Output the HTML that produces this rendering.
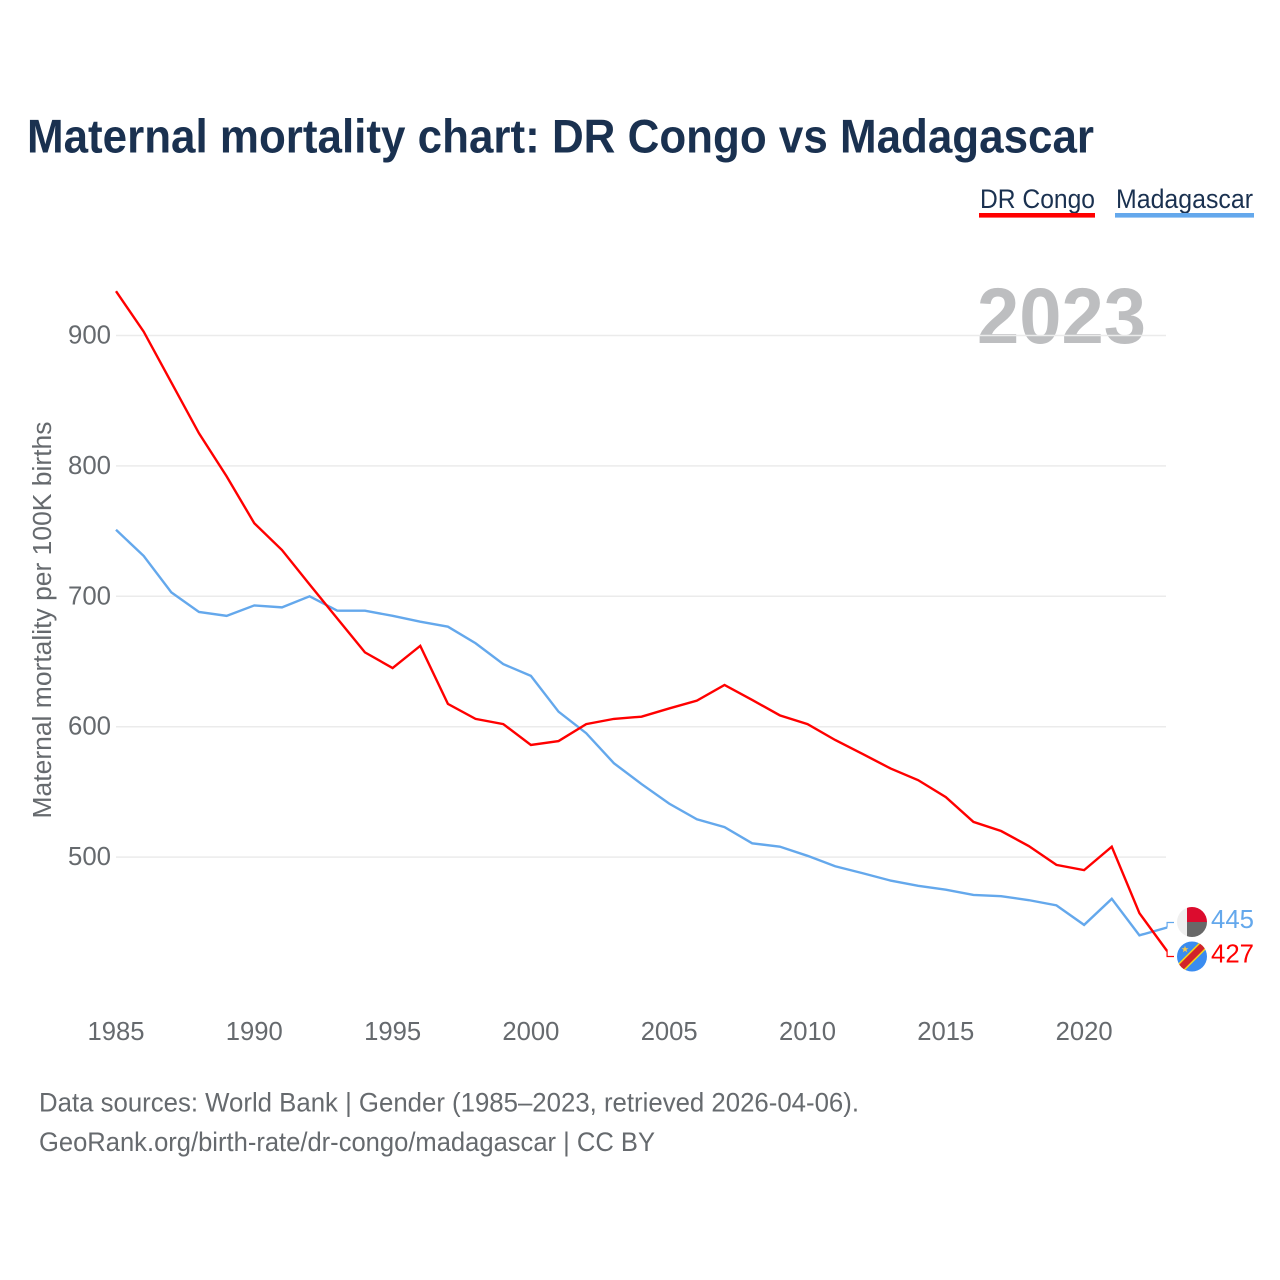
<!DOCTYPE html>
<html lang="en">
<head>
<meta charset="utf-8">
<title>Maternal mortality chart: DR Congo vs Madagascar</title>
<style>
html,body{margin:0;padding:0;background:#fff;}
svg{display:block;}
text{font-family:"Liberation Sans",sans-serif;}
</style>
</head>
<body>
<svg id="chart" xmlns="http://www.w3.org/2000/svg" width="1280" height="1280" viewBox="0 0 1280 1280">
  <rect width="1280" height="1280" fill="#ffffff"/>
  <text x="27" y="152.5" font-size="47" font-weight="700" fill="#1a3150" textLength="1067" lengthAdjust="spacingAndGlyphs">Maternal mortality chart: DR Congo vs Madagascar</text>

  <g>
    <g>
      <text x="980" y="208" font-size="27" fill="#1a3150" textLength="115" lengthAdjust="spacingAndGlyphs">DR Congo</text>
      <rect x="979" y="213" width="116" height="4.6" fill="#ff0000"/>
    </g>
    <g>
      <text x="1116" y="208" font-size="27" fill="#1a3150" textLength="137" lengthAdjust="spacingAndGlyphs">Madagascar</text>
      <rect x="1115" y="213" width="139" height="4.6" fill="#64a8ec"/>
    </g>
  </g>

  <text x="977" y="343" font-size="79" font-weight="700" fill="#bdbec0" textLength="169" lengthAdjust="spacingAndGlyphs">2023</text>

  <g id="grid"></g>
  <g id="yticks"></g>
  <g id="xticks"></g>

  <text transform="translate(51,620) rotate(-90)" text-anchor="middle" font-size="25.5" fill="#666a6e" textLength="397" lengthAdjust="spacingAndGlyphs">Maternal mortality per 100K births</text>

  <g id="series"></g>

  <defs>
    <clipPath id="clip-mg"><circle cx="1192" cy="922" r="15"/></clipPath>
    <clipPath id="clip-cd"><circle cx="1192" cy="956.5" r="15"/></clipPath>
  </defs>

  <g clip-path="url(#clip-mg)">
    <rect x="1177" y="907" width="10" height="30" fill="#efefef"/>
    <rect x="1187" y="907" width="20" height="15" fill="#dc0c2e"/>
    <rect x="1187" y="922" width="20" height="15" fill="#686868"/>
  </g>
  <g clip-path="url(#clip-cd)">
    <rect x="1177" y="941" width="30" height="31" fill="#3a8cf0"/>
    <line x1="1172" y1="976.5" x2="1212" y2="936.5" stroke="#f7d618" stroke-width="9.5"/>
    <line x1="1172" y1="976.5" x2="1212" y2="936.5" stroke="#d2232a" stroke-width="6.5"/>
    <polygon points="1185,945.7 1185.9,948.2 1188.5,948.2 1186.4,949.8 1187.2,952.3 1185,950.8 1182.8,952.3 1183.6,949.8 1181.5,948.2 1184.1,948.2" fill="#f7c948"/>
  </g>

  <text x="1211" y="928" font-size="26" fill="#64a8ec" textLength="43" lengthAdjust="spacingAndGlyphs">445</text>
  <text x="1211" y="962.5" font-size="26" fill="#ff0000" textLength="43" lengthAdjust="spacingAndGlyphs">427</text>

  <text x="39" y="1111.5" font-size="27" fill="#666a6e" textLength="820" lengthAdjust="spacingAndGlyphs">Data sources: World Bank | Gender (1985–2023, retrieved 2026-04-06).</text>
  <text x="39" y="1151" font-size="27" fill="#666a6e" textLength="616" lengthAdjust="spacingAndGlyphs">GeoRank.org/birth-rate/dr-congo/madagascar | CC BY</text>
</svg>
<script>
const years = [1985,1986,1987,1988,1989,1990,1991,1992,1993,1994,1995,1996,1997,1998,1999,2000,2001,2002,2003,2004,2005,2006,2007,2008,2009,2010,2011,2012,2013,2014,2015,2016,2017,2018,2019,2020,2021,2022,2023];
const drCongo = [934,903,864,825,792,756,735.5,709,683,657,645,662,617.5,606,602,586,589,602,606,607.7,614,620,632,620.5,608.7,602,589.8,579,568,559,546,527,520,508.5,494,490,508,457,428];
const madagascar = [751,731,703,688,685,693,691.5,700,689,689,685,680.5,676.7,664,648,639,611.5,595,572,556,541,529,523,510.6,508,501,493,487.6,482,478,475,471,470,467,463,448,468,440,446];
const yTicks = [900,800,700,600,500];
const xTicks = [1985,1990,1995,2000,2005,2010,2015,2020];

const NS = 'http://www.w3.org/2000/svg';
const xScale = function (year) { return 116 + (year - 1985) * 27.66; };
const yScale = function (value) { return 335.5 + (900 - value) * 1.304; };

const grid = document.getElementById('grid');
const yG = document.getElementById('yticks');
const xG = document.getElementById('xticks');
const seriesG = document.getElementById('series');

yTicks.forEach(function (tick) {
  const line = document.createElementNS(NS, 'line');
  
  
  line.setAttribute('x1', 116);
  line.setAttribute('x2', 1166);
  line.setAttribute('y1', yScale(tick));
  line.setAttribute('y2', yScale(tick));
  line.setAttribute('stroke', '#ebebeb');
  line.setAttribute('stroke-width', 1.5);
  grid.appendChild(line);

  const label = document.createElementNS(NS, 'text');
  
  
  label.setAttribute('x', 111);
  label.setAttribute('y', yScale(tick) + 8);
  label.setAttribute('text-anchor', 'end');
  label.setAttribute('font-size', 26);
  label.setAttribute('fill', '#666a6e');
  label.setAttribute('textLength', 43);
  label.setAttribute('lengthAdjust', 'spacingAndGlyphs');
  label.textContent = tick;
  yG.appendChild(label);
});

xTicks.forEach(function (tick) {
  const label = document.createElementNS(NS, 'text');
  
  
  label.setAttribute('x', xScale(tick));
  label.setAttribute('y', 1040);
  label.setAttribute('text-anchor', 'middle');
  label.setAttribute('font-size', 26);
  label.setAttribute('fill', '#666a6e');
  label.setAttribute('textLength', 57);
  label.setAttribute('lengthAdjust', 'spacingAndGlyphs');
  label.textContent = tick;
  xG.appendChild(label);
});

function pathFor(values) {
  return values.map(function (v, i) {
    return (i ? 'L' : 'M') + xScale(years[i]).toFixed(2) + ' ' + yScale(v).toFixed(2);
  }).join(' ');
}

const blueLine = document.createElementNS(NS, 'path');


blueLine.setAttribute('d', pathFor(madagascar));
blueLine.setAttribute('fill', 'none');
blueLine.setAttribute('stroke', '#64a8ec');
blueLine.setAttribute('stroke-width', 2.4);
seriesG.appendChild(blueLine);

const redLine = document.createElementNS(NS, 'path');


redLine.setAttribute('d', pathFor(drCongo));
redLine.setAttribute('fill', 'none');
redLine.setAttribute('stroke', '#ff0000');
redLine.setAttribute('stroke-width', 2.4);
seriesG.appendChild(redLine);

const endX = xScale(years[years.length - 1]);

const blueConn = document.createElementNS(NS, 'path');


blueConn.setAttribute('d', 'M' + endX + ' ' + yScale(madagascar[madagascar.length - 1]) + ' V922.5 H1174');
blueConn.setAttribute('fill', 'none');
blueConn.setAttribute('stroke', '#64a8ec');
blueConn.setAttribute('stroke-width', 1.2);
seriesG.appendChild(blueConn);

const redConn = document.createElementNS(NS, 'path');


redConn.setAttribute('d', 'M' + endX + ' ' + yScale(drCongo[drCongo.length - 1]) + ' V956.5 H1174');
redConn.setAttribute('fill', 'none');
redConn.setAttribute('stroke', '#ff0000');
redConn.setAttribute('stroke-width', 1.2);
seriesG.appendChild(redConn);
</script>
</body>
</html>
